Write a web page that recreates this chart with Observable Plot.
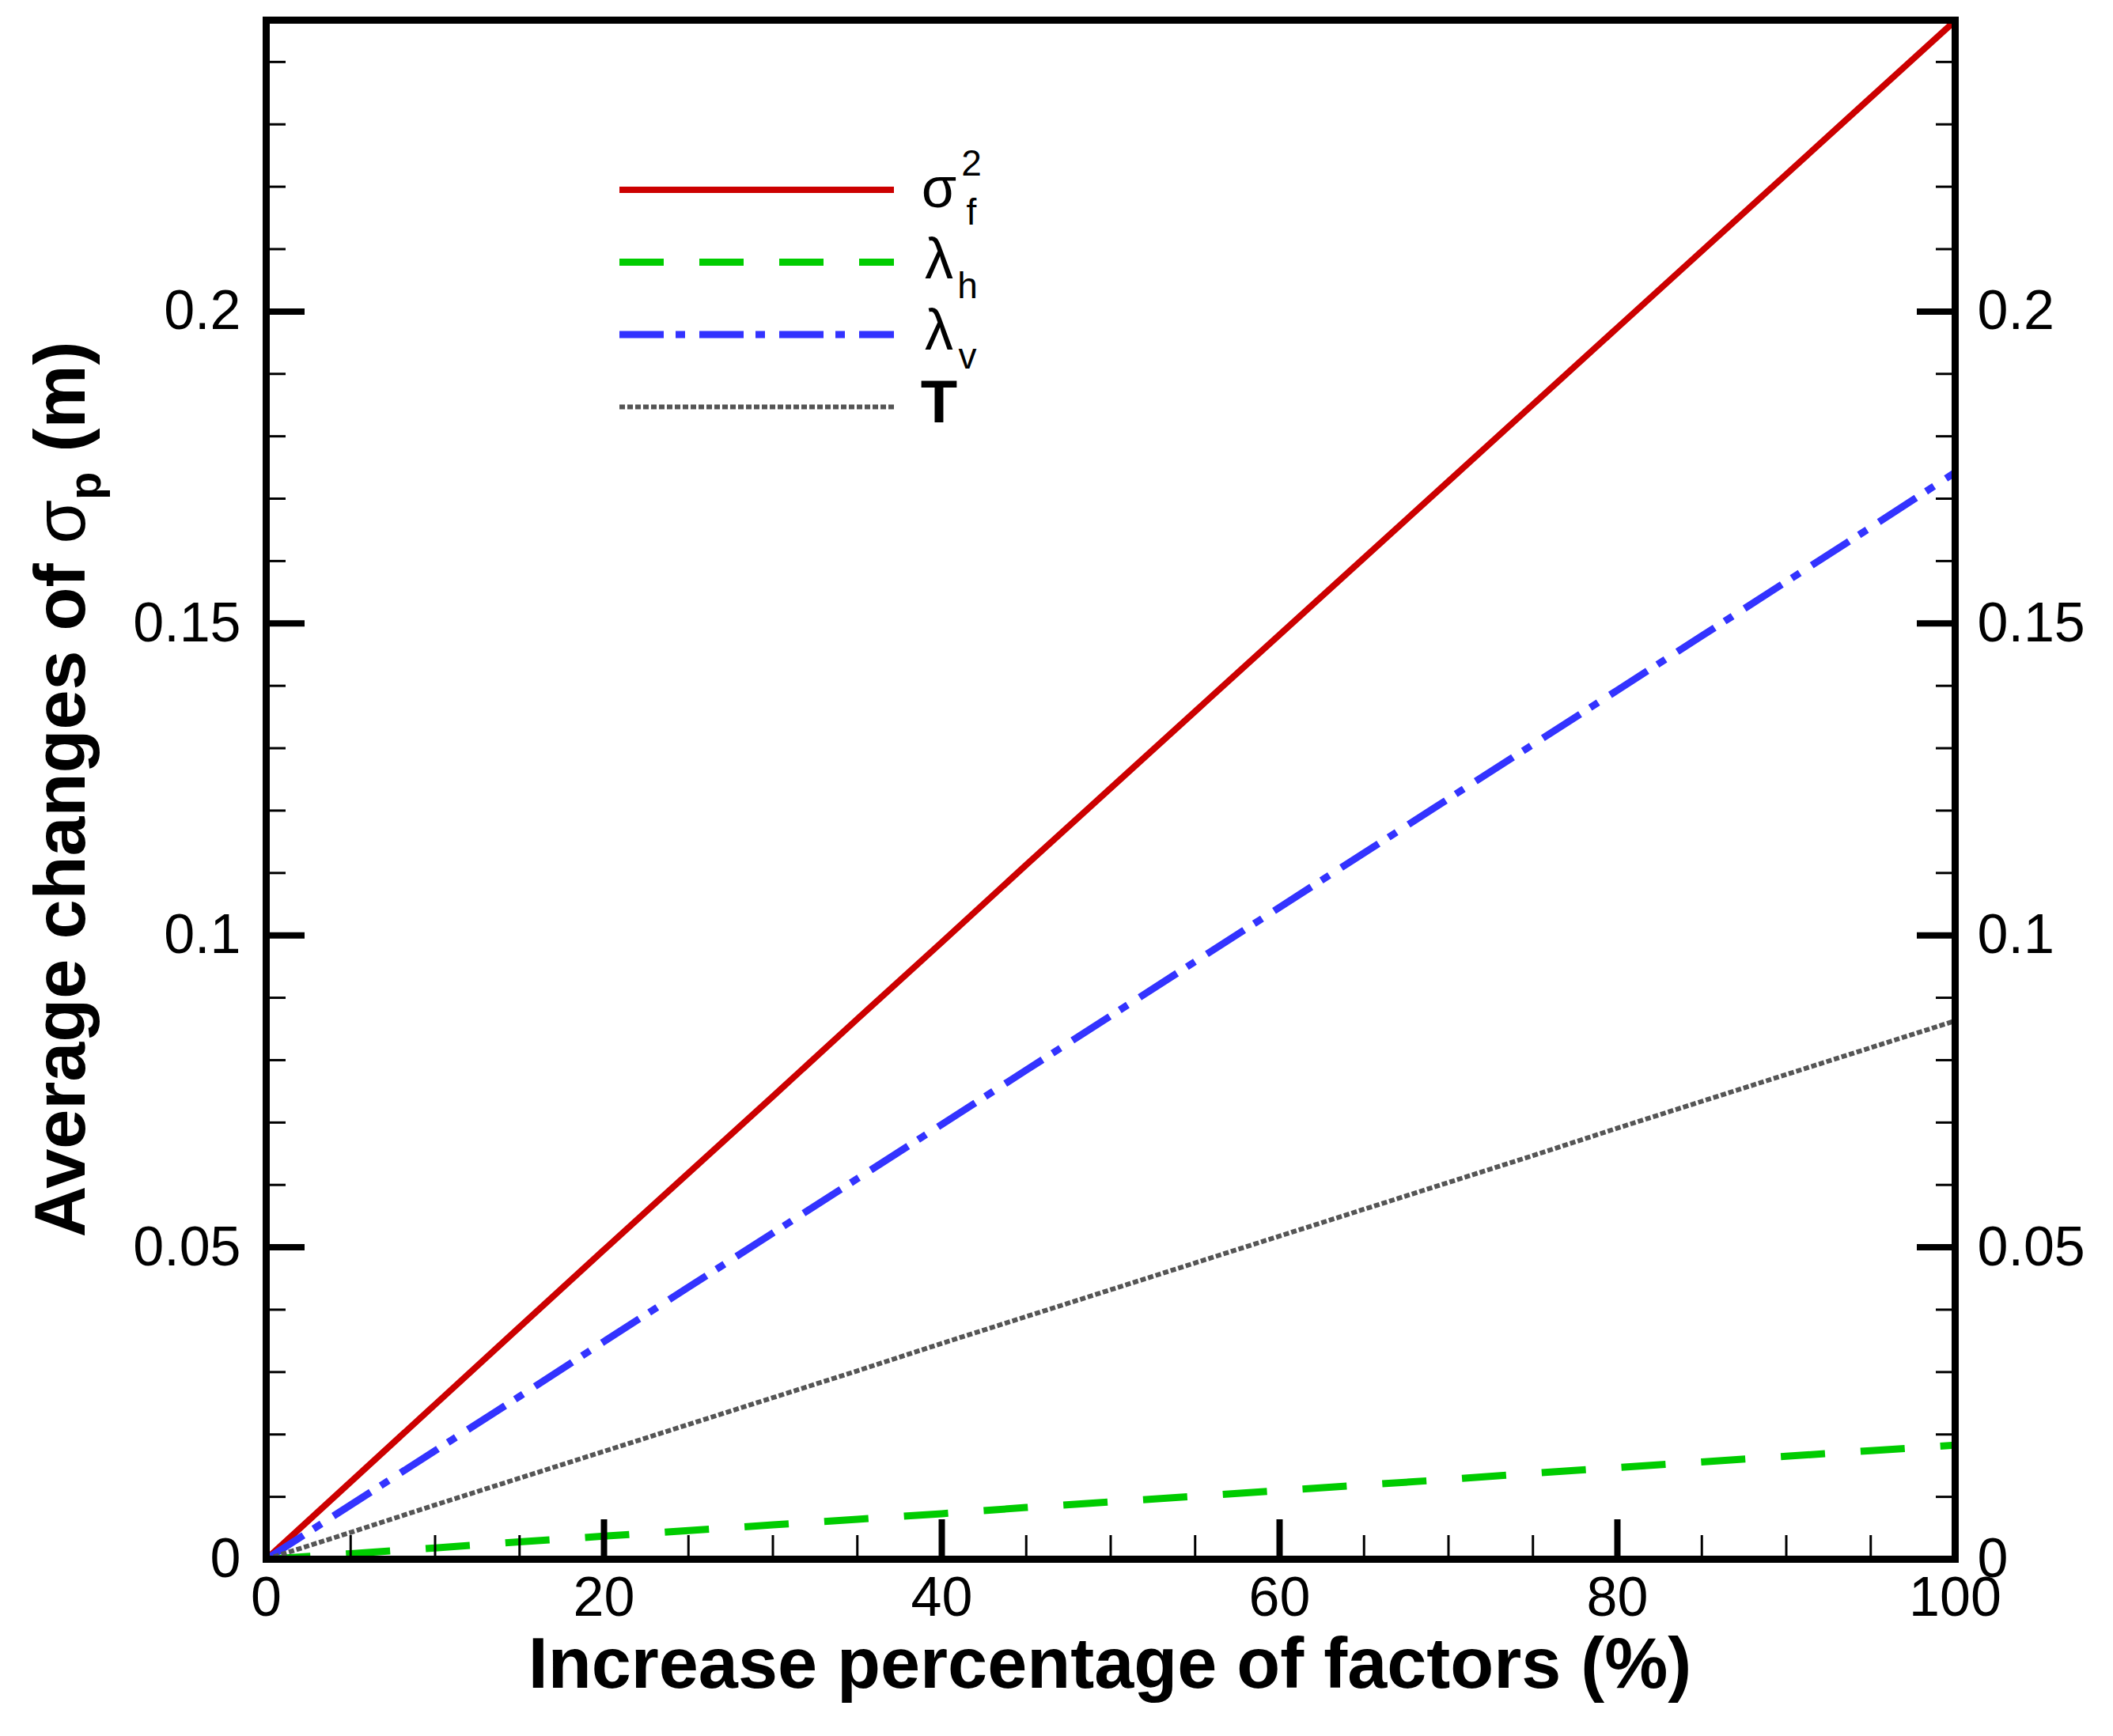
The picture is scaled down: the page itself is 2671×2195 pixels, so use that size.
<!DOCTYPE html>
<html>
<head>
<meta charset="utf-8">
<script src="https://cdn.jsdelivr.net/npm/d3@7"></script>
<script src="https://cdn.jsdelivr.net/npm/@observablehq/plot@0.6"></script>
<style>
  body { margin: 0; background: #fff; }
</style>
</head>
<body>
<div id="chart"></div>
<script>
// increase percentage of factors (%)
const pct = [0, 5, 10, 15, 20, 25, 30, 35, 40, 45, 50, 55, 60, 65, 70, 75, 80, 85, 90, 95, 100];

// average changes of sigma_p (m)
const sigmaF2 = [0, 0.0124, 0.0248, 0.0372, 0.0496, 0.0619, 0.0742, 0.0866, 0.0989, 0.1113, 0.1236,
  0.1359, 0.1482, 0.1605, 0.1728, 0.1851, 0.1974, 0.2097, 0.2220, 0.2343, 0.2466];
const lambdaH = [0, 0.0009, 0.0018, 0.0028, 0.0037, 0.0046, 0.0055, 0.0064, 0.0073, 0.0083, 0.0092,
  0.0101, 0.0110, 0.0119, 0.0128, 0.0138, 0.0147, 0.0156, 0.0165, 0.0174, 0.0183];
const lambdaV = [0, 0.0087, 0.0174, 0.0261, 0.0349, 0.0436, 0.0523, 0.0610, 0.0697, 0.0784, 0.0871,
  0.0958, 0.1045, 0.1132, 0.1219, 0.1306, 0.1393, 0.1480, 0.1567, 0.1654, 0.1742];
const tPeriod = [0, 0.0043, 0.0087, 0.0130, 0.0173, 0.0216, 0.0259, 0.0302, 0.0346, 0.0389, 0.0432,
  0.0475, 0.0518, 0.0561, 0.0604, 0.0647, 0.0691, 0.0734, 0.0777, 0.0820, 0.0863];

// tick values and labels
const xMajor = [0, 20, 40, 60, 80, 100];
const xLabels = ["0", "20", "40", "60", "80", "100"];
const xMinor = [5, 10, 15, 25, 30, 35, 45, 50, 55, 65, 70, 75, 85, 90, 95];
const yMajor = [0, 0.05, 0.1, 0.15, 0.2];
const yLabels = ["0", "0.05", "0.1", "0.15", "0.2"];
const yMinor = [0.01, 0.02, 0.03, 0.04, 0.06, 0.07, 0.08, 0.09, 0.11, 0.12, 0.13, 0.14,
  0.16, 0.17, 0.18, 0.19, 0.21, 0.22, 0.23, 0.24];

// line styles per series
const series = [
  {key: "sf", values: sigmaF2, color: "#cc0000", width: 8, dash: null},
  {key: "lh", values: lambdaH, color: "#00cc00", width: 9, dash: "56,45"},
  {key: "lv", values: lambdaV, color: "#3333ff", width: 9, dash: "56,15,12,18"},
  {key: "T", values: tPeriod, color: "#555555", width: 6, dash: "7,3"}
];

const rows = series.flatMap(s => s.values.map((v, i) => ({key: s.key, x: pct[i], y: v})));

const xLab = d => xLabels[xMajor.indexOf(d)];
const yLab = d => yLabels[yMajor.indexOf(d)];
const blank = () => "";

const chart = Plot.plot({
  width: 2671,
  height: 2195,
  marginLeft: 336,
  marginRight: 200,
  marginTop: 25,
  marginBottom: 224,
  style: {fontFamily: "'Liberation Sans', Arial, sans-serif", fontSize: "70px", color: "black", background: "white"},
  x: {domain: [0, 100]},
  y: {domain: [0, 0.2467]},
  marks: [
    ...series.map(s => Plot.line(rows.filter(r => r.key === s.key), {
      x: "x", y: "y", stroke: s.color, strokeWidth: s.width,
      strokeDasharray: s.dash, strokeLinecap: "butt", strokeLinejoin: "round"
    })),
    // inward ticks, bottom
    Plot.axisX(xMajor, {anchor: "bottom", tickSize: -50, strokeWidth: 8, tickFormat: blank, label: null}),
    Plot.axisX(xMinor, {anchor: "bottom", tickSize: -30, strokeWidth: 3, tickFormat: blank, label: null}),
    Plot.axisX(xMajor, {anchor: "bottom", tickSize: 0, tickPadding: 22, tickFormat: xLab, label: null}),
    // inward ticks, left
    Plot.axisY(yMajor, {anchor: "left", tickSize: -49, strokeWidth: 8, tickFormat: blank, label: null}),
    Plot.axisY(yMinor, {anchor: "left", tickSize: -25, strokeWidth: 3, tickFormat: blank, label: null}),
    Plot.axisY(yMajor, {anchor: "left", tickSize: 0, tickPadding: 32, tickFormat: yLab, label: null}),
    // inward ticks, right
    Plot.axisY(yMajor, {anchor: "right", tickSize: -49, strokeWidth: 8, tickFormat: blank, label: null}),
    Plot.axisY(yMinor, {anchor: "right", tickSize: -25, strokeWidth: 3, tickFormat: blank, label: null}),
    Plot.axisY(yMajor, {anchor: "right", tickSize: 0, tickPadding: 28, tickFormat: yLab, label: null}),
    Plot.frame({stroke: "black", strokeWidth: 9})
  ]
});

document.getElementById("chart").append(chart);

const svg = d3.select(chart);
const bold = "'Liberation Sans', Arial, sans-serif";

// x axis title
svg.append("text")
  .attr("x", 1403).attr("y", 2134)
  .attr("text-anchor", "middle")
  .attr("font-size", 90).attr("font-weight", "bold")
  .attr("font-family", bold)
  .text("Increase percentage of factors (%)");

// y axis title with subscript
const yt = svg.append("text")
  .attr("transform", "translate(107,998) rotate(-90)")
  .attr("text-anchor", "middle")
  .attr("font-size", 90).attr("font-weight", "bold")
  .attr("font-family", bold);
yt.append("tspan").text("Average changes of ");
yt.append("tspan").attr("font-weight", "normal").text("σ");
yt.append("tspan").attr("font-size", 58).attr("dy", 20).text("p");
yt.append("tspan").attr("dy", -20).text(" (m)");

// legend
const lx1 = 783, lx2 = 1130, ly0 = 240, lstep = 91.5, tx = 1187;
series.forEach((s, i) => {
  const y = ly0 + i * lstep;
  svg.append("line")
    .attr("x1", lx1).attr("x2", lx2).attr("y1", y).attr("y2", y)
    .attr("stroke", s.color).attr("stroke-width", s.width)
    .attr("stroke-dasharray", s.dash);
});

function legendText(x, y, size, str, weight) {
  svg.append("text").attr("x", x).attr("y", y)
    .attr("font-size", size).attr("font-weight", weight || "normal")
    .attr("font-family", bold).text(str);
}
legendText(tx, ly0 + 22, 72, "σ");
legendText(tx + 41, ly0 + 44, 46, "f");
legendText(tx + 41, ly0 - 18, 46, "2");
legendText(tx, ly0 + lstep + 20, 72, "λ");
legendText(tx + 36, ly0 + lstep + 45, 46, "h");
legendText(tx, ly0 + 2 * lstep + 19, 72, "λ");
legendText(tx + 36, ly0 + 2 * lstep + 43, 46, "v");
legendText(tx, ly0 + 3 * lstep + 19, 76, "T", "bold");
</script>
</body>
</html>
